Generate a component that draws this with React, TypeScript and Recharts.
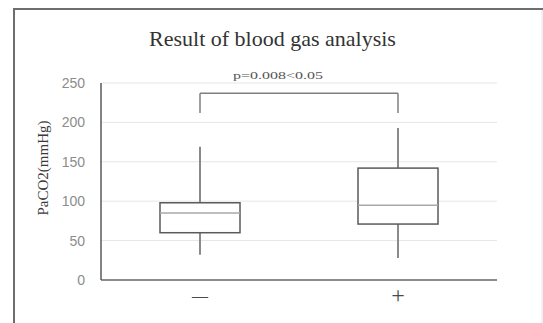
import React from 'react';
import { ComposedChart, Bar, XAxis, YAxis, CartesianGrid, ReferenceLine } from 'recharts';

const categories = ['—', '+'];
const minValues = [32, 28];
const q1Values = [60, 71];
const medianValues = [85, 95];
const q3Values = [98, 142];
const maxValues = [169, 193];
const yTicks = [0, 50, 100, 150, 200, 250];
const bracketLow = 212;
const bracketHigh = 237;
const pText = 'p=0.008<0.05';
const title = 'Result of blood gas analysis';
const yLabel = 'PaCO2(mmHg)';

const data = categories.map((name, i) => ({
  name,
  range: [minValues[i], maxValues[i]],
  min: minValues[i],
  q1: q1Values[i],
  med: medianValues[i],
  q3: q3Values[i],
  max: maxValues[i],
}));

const BoxShape = (props: any) => {
  const { x, y, width, height, payload } = props;
  const top = Math.min(y, y + height);
  const h = Math.abs(height);
  const scale = h / (payload.max - payload.min);
  const vy = (v: number) => top + (payload.max - v) * scale;
  const cx = x + width / 2;
  return (
    <g>
      <line x1={cx} x2={cx} y1={vy(payload.max)} y2={vy(payload.q3)} stroke="#8a8a8a" strokeWidth={2} />
      <line x1={cx} x2={cx} y1={vy(payload.q1)} y2={vy(payload.min)} stroke="#8a8a8a" strokeWidth={2} />
      <rect x={x} y={vy(payload.q3)} width={width} height={vy(payload.q1) - vy(payload.q3)} fill="#ffffff" stroke="#5a5a5a" strokeWidth={1.5} />
      <line x1={x} x2={x + width} y1={vy(payload.med)} y2={vy(payload.med)} stroke="#a8a8a8" strokeWidth={1.5} />
    </g>
  );
};

const XTick = (props: any) => {
  const { x, y, payload } = props;
  const isPlus = payload.value === '+';
  return (
    <text
      x={x}
      y={y + 7}
      textAnchor="middle"
      dominantBaseline="central"
      fontFamily="Liberation Serif"
      fontSize={isPlus ? 24 : 16}
      fill="#4a4a4a"
    >
      {payload.value}
    </text>
  );
};

export default function App() {
  return (
    <div style={{ position: 'absolute', left: 0, top: 0, width: 543, height: 323, background: '#fff' }}>
      <ComposedChart
        width={543}
        height={323}
        data={data}
        margin={{ top: 83, right: 46, bottom: 13, left: 41 }}
      >
        <CartesianGrid vertical={false} stroke="#e6e6e6" strokeWidth={1} />
        <XAxis
          dataKey="name"
          type="category"
          height={30}
          tickLine={false}
          axisLine={{ stroke: '#8c8c8c', strokeWidth: 2 }}
          tick={<XTick />}
          tickMargin={2}
        />
        <YAxis
          width={60}
          domain={[0, 250]}
          ticks={yTicks}
          tickLine={false}
          tickSize={6}
          tickMargin={10}
          axisLine={{ stroke: '#5a5a5a', strokeWidth: 1.5 }}
          tick={{ fill: '#8c8c8c', fontSize: 14, fontFamily: 'Liberation Sans' }}
        />
        <Bar dataKey="range" barSize={80} shape={BoxShape} isAnimationActive={false} />
        <ReferenceLine
          segment={[{ x: categories[0], y: bracketLow }, { x: categories[0], y: bracketHigh }]}
          stroke="#7f7f7f"
          strokeWidth={1.5}
        />
        <ReferenceLine
          segment={[{ x: categories[0], y: bracketHigh }, { x: categories[1], y: bracketHigh }]}
          stroke="#7f7f7f"
          strokeWidth={1.5}
        />
        <ReferenceLine
          segment={[{ x: categories[1], y: bracketHigh }, { x: categories[1], y: bracketLow }]}
          stroke="#7f7f7f"
          strokeWidth={1.5}
        />
      </ComposedChart>
      <svg width={543} height={323} style={{ position: 'absolute', left: 0, top: 0, pointerEvents: 'none' }}>
        <line x1={14} y1={9} x2={543} y2={9} stroke="#6e6e6e" strokeWidth={2} />
        <line x1={14} y1={8} x2={14} y2={323} stroke="#6e6e6e" strokeWidth={2} />
        <line x1={542} y1={10} x2={542} y2={323} stroke="#e4e4e4" strokeWidth={1} />
        <text x={272.5} y={46} textAnchor="middle" fontFamily="Liberation Serif" fontSize={22} fill="#333">
          {title}
        </text>
        <text x={278} y={79} textAnchor="middle" fontFamily="Liberation Serif" fontSize={10} fill="#555" textLength={90} lengthAdjust="spacingAndGlyphs">
          {pText}
        </text>
        <text
          x={43}
          y={168}
          textAnchor="middle"
          dominantBaseline="central"
          fontFamily="Liberation Serif"
          fontSize={15}
          fill="#3a3a3a"
          transform="rotate(-90, 43, 168)"
        >
          {yLabel}
        </text>
      </svg>
    </div>
  );
}
